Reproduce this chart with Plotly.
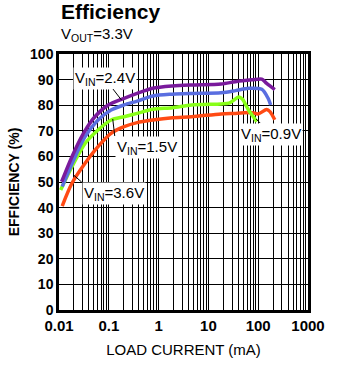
import math
import plotly.graph_objects as go

# ---- data (load current in mA, efficiency in %) ----
p24_x = [0.0113, 0.0182, 0.031, 0.0525, 0.0955, 0.203, 0.371, 0.76, 1.9, 4.6, 18, 35, 75, 118, 148, 215]
p24_y = [50.1, 59.9, 69.0, 75.5, 80.0, 82.7, 84.6, 86.6, 87.5, 87.9, 88.3, 89.2, 89.9, 90.2, 88.5, 86.1]

b_x = [0.0116, 0.0197, 0.0334, 0.0608, 0.111, 0.203, 0.371, 0.76, 1.9, 4.6, 18, 35, 64, 118, 158, 178]
b_y = [48.2, 58.6, 67.7, 74.2, 78.1, 80.1, 81.6, 83.6, 84.3, 84.6, 84.9, 85.7, 86.6, 86.2, 82.7, 80.1]

g_x = [0.0108, 0.0182, 0.0334, 0.0608, 0.111, 0.203, 0.371, 0.76, 1.9, 4.6, 18, 26, 41, 48, 64, 94]
g_y = [46.9, 56.0, 65.1, 70.3, 74.2, 75.5, 76.8, 78.4, 79.0, 80.1, 80.5, 80.8, 83.2, 82.4, 78.1, 73.6]

r_x = [0.0116, 0.0182, 0.0334, 0.0608, 0.111, 0.203, 0.371, 0.76, 1.9, 4.6, 18, 35, 75, 100, 148, 172, 215]
r_y = [40.6, 49.5, 57.3, 63.8, 69.0, 71.6, 73.2, 74.2, 75.1, 75.5, 76.6, 76.8, 77.1, 76.6, 78.3, 77.5, 74.3]

x_tickvals = [0.01, 0.1, 1, 10, 100, 1000]
x_ticktext = ["0.01", "0.1", "1", "10", "100", "1000"]
y_tickvals = [0, 10, 20, 30, 40, 50, 60, 70, 80, 90, 100]

colors = ["#7a1a9c", "#5a6ee0", "#88ff18", "#ff4a14"]
FONT = "Liberation Sans, Arial, sans-serif"

fig = go.Figure()
for xs, ys, c in [(r_x, r_y, colors[3]), (g_x, g_y, colors[2]), (b_x, b_y, colors[1]), (p24_x, p24_y, colors[0])]:
    fig.add_trace(go.Scatter(x=xs, y=ys, mode="lines",
                             line=dict(color=c, width=3.5, shape="spline", smoothing=0.8),
                             hoverinfo="skip", showlegend=False))

def lab(text, x, y, ax, ay, xanchor="auto", yanchor="auto"):
    fig.add_annotation(x=x, y=y, ax=ax, ay=ay, text=text, showarrow=True,
                       arrowhead=0, arrowwidth=1, arrowcolor="black",
                       xanchor=xanchor, yanchor=yanchor, bgcolor="white",
                       borderpad=1, font=dict(family=FONT, size=15, color="black"))

lab("V<sub>IN</sub>=2.4V", math.log10(0.18), 82.0, -17, -22)
lab("V<sub>IN</sub>=1.5V", math.log10(0.12), 74.6, 2, 17, "left", "top")
lab("V<sub>IN</sub>=3.6V", math.log10(0.0197), 52.7, 8, 7, "left", "top")
lab("V<sub>IN</sub>=0.9V", math.log10(91), 74.6, 15, 15)

fig.add_annotation(text="<b>Efficiency</b>", xref="paper", yref="paper", x=0.0, y=1.219,
                   xanchor="left", yanchor="top", showarrow=False,
                   font=dict(family=FONT, size=21, color="black"))
fig.add_annotation(text="V<sub>OUT</sub>=3.3V",
                   xref="paper", yref="paper", x=0.0, y=1.121,
                   xanchor="left", yanchor="top", showarrow=False,
                   font=dict(family=FONT, size=15, color="black"))

fig.update_layout(
    width=337, height=373,
    margin=dict(l=54, r=28, t=54, b=63),
    paper_bgcolor="white", plot_bgcolor="white",
    font=dict(family=FONT, color="black"),
    xaxis=dict(type="log", range=[-2, 3], tickvals=x_tickvals, ticktext=x_ticktext,
               showgrid=True, gridcolor="black", gridwidth=1,
               minor=dict(dtick="D1", showgrid=True, gridcolor="black", gridwidth=1),
               showline=True, linecolor="black", linewidth=2.5, mirror=True,
               ticks="", tickfont=dict(family=FONT, size=15, weight="bold"),
               title=dict(text="LOAD CURRENT (mA)", font=dict(family=FONT, size=15), standoff=12),
               zeroline=False, fixedrange=True),
    yaxis=dict(range=[0, 100], tickvals=y_tickvals, showgrid=True, gridcolor="black", gridwidth=1,
               showline=True, linecolor="black", linewidth=2.5, mirror=True,
               ticks="", tickfont=dict(family=FONT, size=14, weight="bold"),
               title=dict(text="<b>EFFICIENCY (%)</b>", font=dict(family=FONT, size=14), standoff=8),
               zeroline=False, fixedrange=True),
)

fig.write_html("out.html")
